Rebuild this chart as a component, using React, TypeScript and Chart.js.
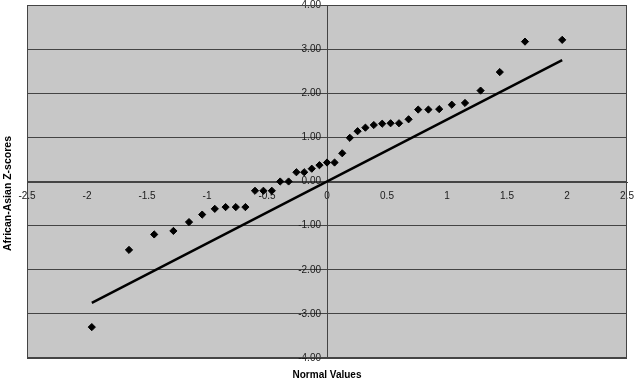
import React, { useEffect, useRef } from "react";
import { Chart, registerables } from "chart.js";

Chart.register(...registerables);

const normalValues = [
  -1.96, -1.65, -1.44, -1.28, -1.15, -1.04, -0.935, -0.845, -0.76, -0.68,
  -0.6, -0.53, -0.46, -0.39, -0.32, -0.255, -0.19, -0.127, -0.063, 0,
  0.063, 0.127, 0.19, 0.255, 0.32, 0.39, 0.46, 0.53, 0.6, 0.68,
  0.76, 0.845, 0.935, 1.04, 1.15, 1.28, 1.44, 1.65, 1.96,
];
const zScores = [
  -3.3, -1.55, -1.2, -1.12, -0.92, -0.75, -0.62, -0.58, -0.58, -0.58,
  -0.21, -0.21, -0.21, 0.0, 0.0, 0.21, 0.21, 0.29, 0.37, 0.43,
  0.43, 0.64, 0.99, 1.14, 1.22, 1.28, 1.31, 1.32, 1.32, 1.41,
  1.63, 1.63, 1.64, 1.74, 1.78, 2.06, 2.48, 3.17, 3.21,
];
const refLineX = [-1.96, 1.96];
const refLineY = [-2.75, 2.75];

const xTicks = [-2.5, -2, -1.5, -1, -0.5, 0, 0.5, 1, 1.5, 2, 2.5];
const xTickLabels = ["-2.5", "-2", "-1.5", "-1", "-0.5", "0", "0.5", "1", "1.5", "2", "2.5"];
const yTicks = [-4, -3, -2, -1, 0, 1, 2, 3, 4];
const yTickLabels = ["-4.00", "-3.00", "-2.00", "-1.00", "0.00", "1.00", "2.00", "3.00", "4.00"];

const xTitle = "Normal Values";
const yTitle = "African-Asian Z-scores";

const FONT = '"Liberation Sans", Arial, sans-serif';

const framePlugin = {
  id: "frame",
  beforeDraw(chart: any) {
    const { ctx, chartArea } = chart;
    ctx.save();
    ctx.fillStyle = "#c7c7c7";
    ctx.fillRect(chartArea.left, chartArea.top, chartArea.right - chartArea.left, chartArea.bottom - chartArea.top);
    ctx.restore();
  },
  afterDraw(chart: any) {
    const { ctx, chartArea } = chart;
    ctx.save();
    ctx.strokeStyle = "#444";
    ctx.lineWidth = 1;
    ctx.strokeRect(chartArea.left + 0.5, chartArea.top + 0.5, chartArea.right - chartArea.left - 1, chartArea.bottom - chartArea.top - 1);
    ctx.fillStyle = "#000";
    ctx.font = `bold 10px ${FONT}`;
    ctx.textAlign = "center";
    ctx.textBaseline = "middle";
    ctx.fillText(xTitle, (chartArea.left + chartArea.right) / 2, chartArea.bottom + 17);
    ctx.font = `bold 10.5px ${FONT}`;
    ctx.translate(8, (chartArea.top + chartArea.bottom) / 2 + 12);
    ctx.rotate(-Math.PI / 2);
    ctx.fillText(yTitle, 0, 0);
    ctx.restore();
  },
};

export default function App() {
  const ref = useRef<HTMLCanvasElement | null>(null);
  useEffect(() => {
    if (!ref.current) return;
    const chart = new Chart(ref.current, {
      type: "scatter",
      data: {
        datasets: [
          {
            label: "Z-scores",
            data: normalValues.map((x, i) => ({ x, y: zScores[i] })),
            backgroundColor: "#000",
            borderColor: "#000",
            pointStyle: "rectRot",
            pointRadius: 3.6,
            showLine: false,
          },
          {
            label: "Reference",
            data: refLineX.map((x, i) => ({ x, y: refLineY[i] })),
            borderColor: "#000",
            borderWidth: 2.5,
            pointRadius: 0,
            showLine: true,
          },
        ],
      },
      options: {
        responsive: false,
        animation: false,
        layout: { padding: { left: 27, right: 10, top: 4, bottom: 25 } },
        plugins: { legend: { display: false }, tooltip: { enabled: false } },
        scales: {
          x: {
            type: "linear",
            position: "center",
            min: -2.5,
            max: 2.5,
            afterBuildTicks: (s: any) => {
              s.ticks = xTicks.map((v) => ({ value: v }));
            },
            afterFit: (s: any) => {
              s.paddingLeft = 0; s.paddingRight = 0; s.paddingTop = 0; s.paddingBottom = 0;
            },
            grid: { display: false, drawTicks: false },
            border: { display: true, color: "#444", width: 1 },
            ticks: {
              autoSkip: false,
              maxRotation: 0,
              padding: 9,
              color: "#1a1a1a",
              font: { family: FONT, size: 10 },
              callback: (v: any) => {
                const i = xTicks.indexOf(Number(v));
                return i >= 0 ? xTickLabels[i] : "";
              },
            },
          },
          y: {
            type: "linear",
            position: "center",
            min: -4,
            max: 4,
            afterBuildTicks: (s: any) => {
              s.ticks = yTicks.map((v) => ({ value: v }));
            },
            afterFit: (s: any) => {
              s.paddingLeft = 0; s.paddingRight = 0; s.paddingTop = 0; s.paddingBottom = 0;
            },
            grid: { display: true, color: "#444", lineWidth: 1, drawTicks: false },
            border: { display: true, color: "#444", width: 1 },
            ticks: {
              autoSkip: false,
              padding: 6,
              color: "#1a1a1a",
              font: { family: FONT, size: 10 },
              callback: (v: any) => {
                const i = yTicks.indexOf(Number(v));
                return i >= 0 ? yTickLabels[i] : "";
              },
            },
          },
        },
      },
      plugins: [framePlugin],
    });
    return () => chart.destroy();
  }, []);
  return (
    <div style={{ position: "absolute", left: 0, top: 0, width: 637, height: 383, background: "#fff" }}>
      <canvas ref={ref} width={637} height={383} style={{ display: "block" }} />
    </div>
  );
}
